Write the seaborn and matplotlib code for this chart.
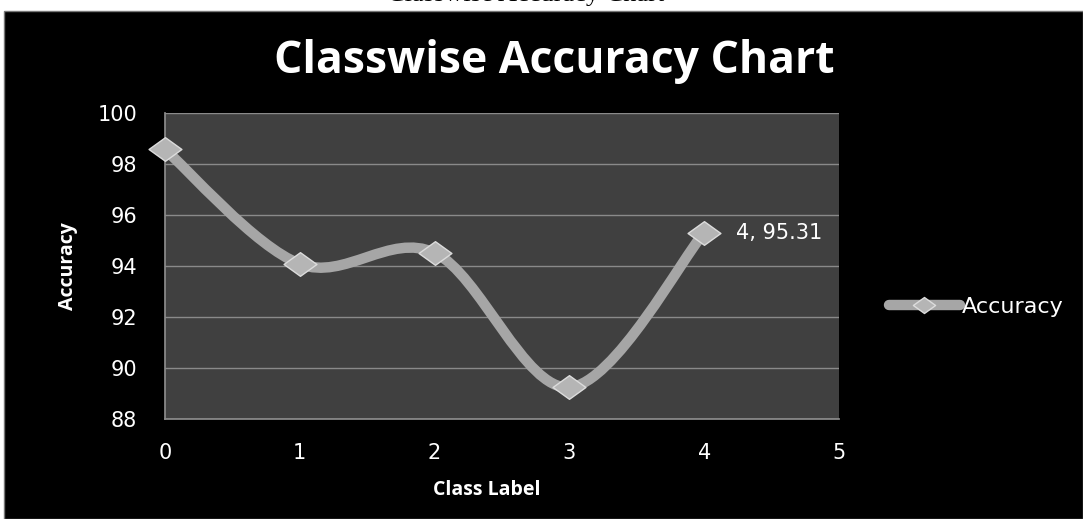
import numpy as np
import pandas as pd
import matplotlib.pyplot as plt
import seaborn as sns
from matplotlib.path import Path
from matplotlib.patches import PathPatch, Rectangle
from matplotlib.lines import Line2D

# valores
class_label = [0, 1, 2, 3, 4]
accuracy = [98.57, 94.08, 94.52, 89.24, 95.31]
y_ticks = [88, 90, 92, 94, 96, 98, 100]
x_ticks = [0, 1, 2, 3, 4, 5]

df = pd.DataFrame({"Class Label": class_label, "Accuracy": accuracy})

sns.set_theme(style="dark", rc={
    "axes.facecolor": "#404040",
    "figure.facecolor": "white",
    "axes.edgecolor": "#8c8c8c",
    "grid.color": "#8a8a8a",
    "text.color": "white",
    "xtick.color": "white",
    "ytick.color": "white",
})
plt.rcParams["font.family"] = ["DejaVu Sans"]

line_col = "#a6a6a6"
diamond = Path([(-1, 0), (0, 0.72), (1, 0), (0, -0.72), (-1, 0)],
               [Path.MOVETO, Path.LINETO, Path.LINETO, Path.LINETO, Path.CLOSEPOLY])


def curva_suave(xs, ys):
    # suavizado tipo Excel (bezier con puntos de control catmull-rom)
    pts = np.column_stack([xs, ys]).astype(float)
    ext = np.vstack([pts[0], pts, pts[-1]])
    verts = [pts[0]]
    codes = [Path.MOVETO]
    for i in range(len(pts) - 1):
        p0, p1, p2, p3 = ext[i], ext[i + 1], ext[i + 2], ext[i + 3]
        verts += [p1 + (p2 - p0) / 6, p2 - (p3 - p1) / 6, p2]
        codes += [Path.CURVE4] * 3
    return Path(verts, codes)


fig = plt.figure(figsize=(10.83, 5.19), dpi=100)
fig.patches.append(Rectangle((4 / 1083, 0), 1 - 4 / 1083, 1 - 11 / 519,
                             transform=fig.transFigure, facecolor="black",
                             edgecolor="#777777", linewidth=1, zorder=-10))
fig.text(0.485, 1 - 1 / 519, "Classwise Accuracy Chart", family="Liberation Serif",
         fontsize=19, color="black", ha="center", va="baseline")

ax = fig.add_axes([165 / 1083, 1 - 419 / 519, 674 / 1083, 306 / 519])
ax.set_xlim(0, 5)
ax.set_ylim(88, 100)
ax.set_yticks(y_ticks)
ax.set_xticks(x_ticks)
ax.grid(axis="y", color="#8a8a8a", linewidth=1)
ax.grid(axis="x", visible=False)
for s in ["top", "right"]:
    ax.spines[s].set_visible(False)
ax.spines["left"].set_color("#8c8c8c")
ax.spines["bottom"].set_color("#8c8c8c")
ax.tick_params(axis="y", length=0, pad=20, labelsize=15)
ax.tick_params(axis="x", length=0, pad=17, labelsize=15)

ax.add_patch(PathPatch(curva_suave(class_label, accuracy), facecolor="none",
                       edgecolor=line_col, linewidth=7.5, capstyle="round",
                       zorder=3, clip_on=False))
sns.scatterplot(data=df, x="Class Label", y="Accuracy", marker=diamond, s=560,
                color="#b5b5b5", edgecolor="#dcdcdc", linewidth=1, zorder=4,
                clip_on=False, ax=ax)

ax.annotate(f"{class_label[-1]}, {accuracy[-1]:.2f}", xy=(class_label[-1], accuracy[-1]),
            xytext=(23, 0), textcoords="offset points", va="center", ha="left",
            fontsize=15, color="white")

ax.set_xlabel("Class Label", family="Open Sans", fontweight="bold", fontsize=14,
              color="white", labelpad=10)
ax.xaxis.set_label_coords(0.478, -0.2)
ax.set_ylabel("Accuracy", family="Open Sans", fontweight="bold", fontsize=14,
              color="white", labelpad=14)

fig.text(554 / 1083, 1 - 62 / 519, "Classwise Accuracy Chart", family="Open Sans",
         fontweight="bold", fontsize=32, color="white", ha="center", va="center")

handle = Line2D([], [], color=line_col, linewidth=7.5, solid_capstyle="round",
                marker=diamond, markersize=16, markerfacecolor="#b5b5b5",
                markeredgecolor="#dcdcdc")
fig.legend([handle], ["Accuracy"], loc="center left",
           bbox_to_anchor=(880 / 1083, 1 - 307 / 519), frameon=False,
           fontsize=16, labelcolor="white", handlelength=3.2, handletextpad=0.1,
           borderaxespad=0)

fig.savefig("out.png", dpi=100, facecolor="white")
